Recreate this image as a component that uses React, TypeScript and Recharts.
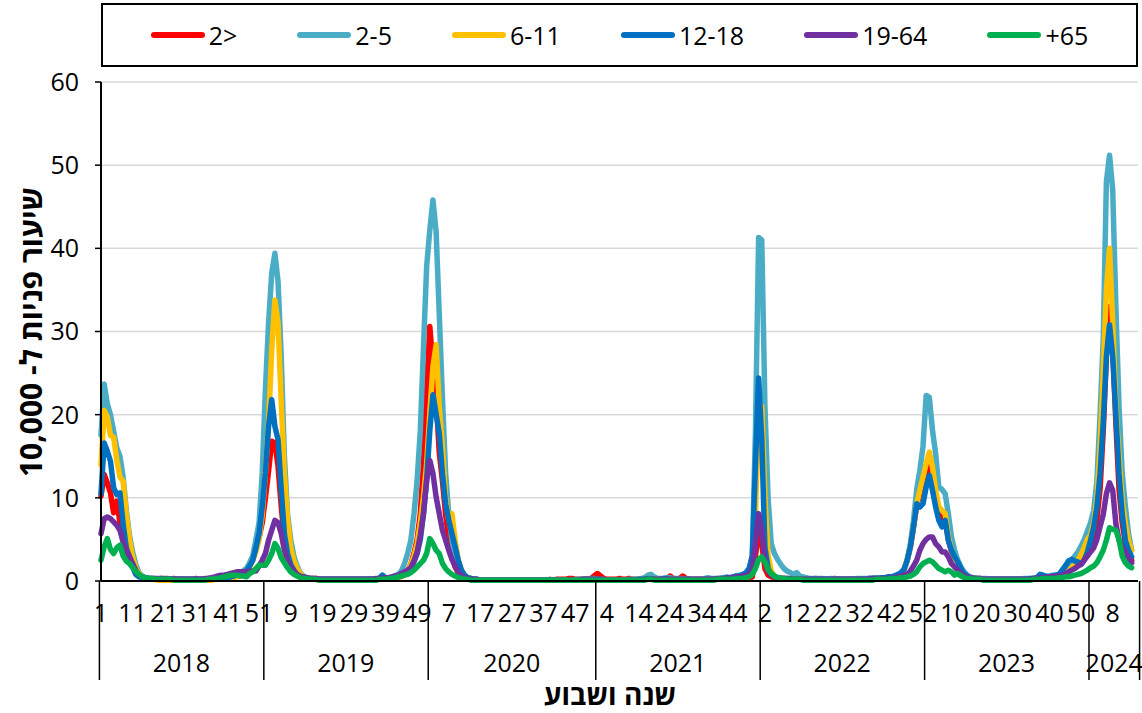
import React from 'react';
import { LineChart, Line, XAxis, YAxis, CartesianGrid, Legend } from 'recharts';

// weekly visit rate per 10,000, by age group, 2018 week 1 .. 2024 week 16
const years = [2018, 2019, 2020, 2021, 2022, 2023, 2024];
const weeksInYear = [52, 52, 53, 52, 52, 52, 16];
const yTicks = [0, 10, 20, 30, 40, 50, 60];

const under2 = [
  // 2018
  10.2, 12.8, 11.8, 10.6, 8.2, 9.6, 7.0, 5.4, 3.8, 2.6, 1.8, 1.0, 0.6,
  0.4, 0.3, 0.3, 0.3, 0.2, 0.2, 0.3, 0.2, 0.2, 0.2, 0.3, 0.2, 0.2,
  0.2, 0.2, 0.2, 0.2, 0.3, 0.2, 0.2, 0.2, 0.3, 0.3, 0.3, 0.4, 0.4,
  0.5, 0.5, 0.6, 0.7, 0.7, 0.8, 0.9, 1.2, 1.8, 2.6, 3.8, 5.2, 7.0,
  // 2019
  10.0, 13.2, 16.8, 16.6, 13.8, 9.0, 5.0, 3.4, 2.8, 1.6, 0.9, 0.6, 0.5,
  0.4, 0.3, 0.3, 0.3, 0.2, 0.2, 0.2, 0.2, 0.2, 0.2, 0.2, 0.2, 0.2,
  0.2, 0.2, 0.2, 0.2, 0.2, 0.2, 0.2, 0.2, 0.2, 0.2, 0.3, 0.3, 0.3,
  0.3, 0.3, 0.4, 0.5, 0.6, 0.8, 1.2, 2.0, 3.3, 5.0, 8.1, 14.1, 23.0,
  // 2020
  30.6, 25.8, 22.0, 15.4, 12.0, 8.0, 5.0, 3.0, 1.7, 1.0, 0.6, 0.4, 0.3,
  0.2, 0.2, 0.1, 0.1, 0.1, 0.1, 0.1, 0.1, 0.1, 0.1, 0.1, 0.1, 0.1,
  0.1, 0.1, 0.1, 0.1, 0.1, 0.1, 0.1, 0.1, 0.1, 0.1, 0.1, 0.1, 0.2,
  0.1, 0.2, 0.2, 0.2, 0.2, 0.3, 0.3, 0.2, 0.2, 0.2, 0.2, 0.2, 0.3, 0.6,
  // 2021
  0.9, 0.6, 0.3, 0.2, 0.2, 0.2, 0.2, 0.3, 0.2, 0.2, 0.3, 0.2, 0.2,
  0.2, 0.2, 0.2, 0.2, 0.2, 0.3, 0.2, 0.2, 0.2, 0.2, 0.6, 0.3, 0.2,
  0.3, 0.6, 0.3, 0.2, 0.2, 0.2, 0.2, 0.2, 0.2, 0.2, 0.2, 0.2, 0.2,
  0.2, 0.2, 0.2, 0.2, 0.2, 0.2, 0.2, 0.2, 0.2, 0.3, 0.5, 3.0, 6.1,
  // 2022
  4.5, 1.5, 0.7, 0.5, 0.4, 0.3, 0.3, 0.3, 0.2, 0.2, 0.2, 0.2, 0.2,
  0.2, 0.2, 0.2, 0.2, 0.3, 0.2, 0.2, 0.2, 0.2, 0.2, 0.3, 0.2, 0.2,
  0.2, 0.2, 0.2, 0.2, 0.2, 0.2, 0.2, 0.2, 0.3, 0.3, 0.3, 0.4, 0.4,
  0.4, 0.4, 0.5, 0.5, 0.6, 0.8, 1.4, 2.5, 4.1, 6.5, 9.0, 10.5, 12.0,
  // 2023
  13.0, 14.5, 12.5, 10.0, 8.0, 7.5, 7.5, 5.0, 3.5, 2.3, 1.5, 1.0, 0.6,
  0.5, 0.4, 0.3, 0.3, 0.3, 0.2, 0.2, 0.2, 0.2, 0.2, 0.2, 0.2, 0.2,
  0.2, 0.2, 0.2, 0.2, 0.2, 0.2, 0.2, 0.2, 0.3, 0.3, 0.3, 0.4, 0.4,
  0.4, 0.5, 0.6, 0.7, 0.9, 1.3, 2.0, 2.2, 1.9, 2.3, 3.0, 4.0, 4.2,
  // 2024
  4.5, 5.5, 7.5, 11.0, 18.0, 27.0, 33.0, 28.0, 19.0, 11.0, 7.0, 4.5, 3.2, 2.5, null, null,
];

const age2to5 = [
  // 2018
  17.5, 23.7, 21.3, 20.0, 18.0, 16.0, 15.0, 12.5, 8.5, 5.5, 3.5, 2.0, 1.0,
  0.6, 0.4, 0.3, 0.3, 0.3, 0.2, 0.2, 0.2, 0.2, 0.2, 0.2, 0.2, 0.2,
  0.2, 0.2, 0.2, 0.2, 0.2, 0.2, 0.2, 0.2, 0.3, 0.3, 0.3, 0.4, 0.5,
  0.5, 0.6, 0.7, 0.8, 0.9, 1.0, 1.2, 1.5, 2.2, 3.0, 5.0, 7.0, 13.0,
  // 2019
  23.0, 31.0, 37.0, 39.4, 36.0, 27.0, 15.0, 8.0, 5.0, 3.0, 1.8, 1.0, 0.6,
  0.4, 0.3, 0.3, 0.2, 0.2, 0.2, 0.2, 0.2, 0.2, 0.2, 0.2, 0.2, 0.2,
  0.2, 0.2, 0.2, 0.2, 0.2, 0.2, 0.2, 0.2, 0.2, 0.2, 0.3, 0.3, 0.4,
  0.4, 0.5, 0.6, 0.8, 1.2, 2.1, 3.3, 4.9, 8.1, 12.1, 18.1, 28.1, 37.8,
  // 2020
  42.2, 45.8, 42.0, 32.0, 22.0, 13.0, 8.0, 5.0, 3.0, 1.7, 1.0, 0.6, 0.4,
  0.3, 0.2, 0.2, 0.1, 0.1, 0.1, 0.1, 0.1, 0.1, 0.1, 0.1, 0.1, 0.1,
  0.1, 0.1, 0.1, 0.1, 0.1, 0.1, 0.1, 0.1, 0.1, 0.1, 0.1, 0.1, 0.1,
  0.1, 0.1, 0.1, 0.1, 0.1, 0.1, 0.1, 0.2, 0.2, 0.2, 0.2, 0.2, 0.3, 0.3,
  // 2021
  0.2, 0.2, 0.2, 0.1, 0.1, 0.1, 0.1, 0.1, 0.1, 0.1, 0.2, 0.2, 0.2,
  0.2, 0.3, 0.4, 0.7, 0.8, 0.5, 0.3, 0.3, 0.3, 0.4, 0.4, 0.3, 0.3,
  0.3, 0.3, 0.2, 0.2, 0.2, 0.2, 0.2, 0.2, 0.3, 0.4, 0.3, 0.3, 0.3,
  0.3, 0.4, 0.5, 0.4, 0.5, 0.6, 0.7, 0.7, 0.8, 1.2, 3.0, 18.0, 41.3,
  // 2022
  41.0, 21.0, 10.0, 4.5, 3.3, 2.6, 2.0, 1.5, 1.2, 1.0, 0.8, 1.0, 0.6,
  0.5, 0.4, 0.3, 0.3, 0.3, 0.3, 0.3, 0.2, 0.2, 0.3, 0.2, 0.2, 0.2,
  0.2, 0.2, 0.2, 0.2, 0.3, 0.3, 0.3, 0.3, 0.3, 0.3, 0.4, 0.4, 0.4,
  0.4, 0.5, 0.5, 0.6, 0.7, 0.9, 1.3, 2.5, 4.5, 7.3, 11.0, 13.3, 16.2,
  // 2023
  22.3, 22.1, 18.1, 15.3, 11.3, 11.0, 10.5, 8.1, 5.3, 3.7, 2.5, 1.7, 1.1,
  0.7, 0.5, 0.4, 0.3, 0.3, 0.3, 0.3, 0.2, 0.2, 0.2, 0.2, 0.2, 0.2,
  0.2, 0.2, 0.2, 0.2, 0.2, 0.3, 0.3, 0.3, 0.3, 0.4, 0.4, 0.5, 0.6,
  0.6, 0.7, 0.7, 0.8, 1.0, 1.5, 2.0, 2.5, 3.0, 3.5, 4.2, 5.0, 6.0,
  // 2024
  7.0, 8.5, 12.0, 20.0, 29.0, 48.0, 51.2, 47.0, 33.0, 21.0, 13.0, 9.0, 5.7, 3.7, null, null,
];

const age6to11 = [
  // 2018
  14.0, 20.5, 19.7, 17.5, 17.3, 14.5, 12.5, 12.0, 8.0, 5.0, 2.9, 1.6, 0.9,
  0.5, 0.3, 0.2, 0.2, 0.2, 0.1, 0.1, 0.1, 0.1, 0.1, 0.1, 0.1, 0.1,
  0.1, 0.1, 0.1, 0.1, 0.1, 0.1, 0.1, 0.1, 0.1, 0.1, 0.2, 0.2, 0.2,
  0.2, 0.3, 0.3, 0.4, 0.5, 0.6, 0.8, 1.1, 1.6, 2.5, 3.5, 5.0, 8.0,
  // 2019
  13.0, 19.0, 27.8, 33.8, 31.0, 21.7, 13.0, 7.5, 4.0, 2.5, 1.5, 0.9, 0.5,
  0.3, 0.2, 0.2, 0.2, 0.1, 0.1, 0.1, 0.1, 0.1, 0.1, 0.1, 0.1, 0.1,
  0.1, 0.1, 0.1, 0.1, 0.1, 0.1, 0.1, 0.1, 0.1, 0.1, 0.2, 0.2, 0.2,
  0.2, 0.3, 0.3, 0.4, 0.5, 0.7, 1.0, 2.0, 3.0, 4.5, 7.0, 10.1, 14.1,
  // 2020
  20.1, 25.8, 28.4, 20.9, 16.1, 10.1, 7.3, 8.1, 4.9, 2.5, 1.3, 0.7, 0.4,
  0.2, 0.2, 0.1, 0.1, 0.1, 0.1, 0.1, 0.1, 0.1, 0.1, 0.1, 0.1, 0.1,
  0.1, 0.1, 0.1, 0.1, 0.1, 0.1, 0.1, 0.1, 0.1, 0.1, 0.1, 0.1, 0.1,
  0.1, 0.1, 0.1, 0.1, 0.1, 0.1, 0.1, 0.1, 0.1, 0.1, 0.1, 0.2, 0.2, 0.2,
  // 2021
  0.2, 0.1, 0.1, 0.1, 0.1, 0.1, 0.1, 0.1, 0.1, 0.1, 0.1, 0.1, 0.1,
  0.1, 0.1, 0.2, 0.3, 0.3, 0.2, 0.2, 0.2, 0.2, 0.2, 0.2, 0.2, 0.2,
  0.2, 0.2, 0.2, 0.1, 0.1, 0.1, 0.1, 0.1, 0.1, 0.2, 0.2, 0.2, 0.2,
  0.2, 0.2, 0.2, 0.2, 0.3, 0.3, 0.3, 0.4, 0.4, 0.6, 1.5, 8.0, 20.0,
  // 2022
  21.0, 10.0, 3.0, 1.2, 0.6, 0.4, 0.3, 0.3, 0.2, 0.2, 0.2, 0.2, 0.2,
  0.2, 0.2, 0.1, 0.1, 0.1, 0.1, 0.1, 0.1, 0.1, 0.1, 0.1, 0.1, 0.1,
  0.1, 0.1, 0.1, 0.1, 0.1, 0.1, 0.1, 0.1, 0.2, 0.2, 0.2, 0.2, 0.3,
  0.3, 0.3, 0.4, 0.5, 0.6, 0.8, 1.4, 2.5, 4.1, 6.5, 9.3, 10.9, 12.5,
  // 2023
  14.1, 15.5, 13.7, 10.9, 8.9, 8.5, 8.1, 5.3, 3.7, 2.5, 1.7, 1.1, 0.7,
  0.5, 0.3, 0.3, 0.2, 0.2, 0.2, 0.1, 0.1, 0.1, 0.1, 0.1, 0.1, 0.1,
  0.1, 0.1, 0.1, 0.1, 0.1, 0.1, 0.1, 0.2, 0.2, 0.2, 0.2, 0.3, 0.3,
  0.3, 0.4, 0.4, 0.5, 0.6, 0.8, 1.2, 1.6, 2.0, 2.5, 3.2, 4.0, 5.0,
  // 2024
  5.5, 7.0, 10.0, 16.0, 25.0, 35.0, 40.0, 31.0, 21.0, 15.0, 9.7, 6.9, 4.9, 3.7, null, null,
];

const age12to18 = [
  // 2018
  10.5, 16.6, 15.6, 14.4, 11.2, 10.4, 10.6, 6.8, 4.0, 2.9, 1.7, 0.8, 0.5,
  0.4, 0.3, 0.3, 0.2, 0.2, 0.2, 0.2, 0.2, 0.2, 0.2, 0.2, 0.2, 0.2,
  0.2, 0.2, 0.2, 0.2, 0.2, 0.2, 0.2, 0.2, 0.2, 0.2, 0.3, 0.3, 0.3,
  0.3, 0.4, 0.5, 0.6, 0.7, 0.8, 0.9, 1.2, 1.8, 2.5, 4.0, 5.7, 8.9,
  // 2019
  13.0, 18.6, 21.8, 18.6, 17.0, 11.0, 5.7, 3.3, 2.0, 1.3, 0.8, 0.5, 0.4,
  0.3, 0.3, 0.2, 0.2, 0.2, 0.2, 0.2, 0.2, 0.2, 0.2, 0.2, 0.2, 0.2,
  0.2, 0.2, 0.2, 0.2, 0.2, 0.2, 0.2, 0.2, 0.2, 0.2, 0.3, 0.7, 0.4,
  0.3, 0.3, 0.4, 0.5, 0.6, 0.8, 1.1, 1.5, 2.3, 3.3, 5.0, 8.1, 12.1,
  // 2020
  18.1, 22.4, 20.1, 17.7, 12.9, 9.3, 7.3, 5.7, 4.1, 2.5, 1.3, 0.7, 0.4,
  0.3, 0.2, 0.2, 0.1, 0.1, 0.1, 0.1, 0.1, 0.1, 0.1, 0.1, 0.1, 0.1,
  0.1, 0.1, 0.1, 0.1, 0.1, 0.1, 0.1, 0.1, 0.1, 0.1, 0.1, 0.1, 0.1,
  0.1, 0.1, 0.1, 0.1, 0.1, 0.1, 0.1, 0.1, 0.1, 0.1, 0.2, 0.2, 0.2, 0.2,
  // 2021
  0.2, 0.2, 0.1, 0.1, 0.1, 0.1, 0.1, 0.1, 0.1, 0.1, 0.1, 0.1, 0.1,
  0.2, 0.2, 0.2, 0.3, 0.3, 0.2, 0.2, 0.2, 0.3, 0.3, 0.2, 0.2, 0.2,
  0.2, 0.2, 0.2, 0.2, 0.1, 0.1, 0.1, 0.1, 0.2, 0.2, 0.2, 0.2, 0.2,
  0.3, 0.3, 0.4, 0.4, 0.5, 0.6, 0.6, 0.8, 1.0, 1.5, 3.0, 14.0, 24.4,
  // 2022
  17.0, 4.0, 1.5, 0.8, 0.5, 0.4, 0.3, 0.3, 0.3, 0.2, 0.2, 0.2, 0.2,
  0.2, 0.2, 0.2, 0.2, 0.2, 0.2, 0.2, 0.2, 0.2, 0.2, 0.2, 0.2, 0.2,
  0.2, 0.2, 0.2, 0.2, 0.2, 0.2, 0.2, 0.2, 0.3, 0.3, 0.3, 0.3, 0.4,
  0.4, 0.5, 0.5, 0.6, 0.8, 1.0, 1.4, 2.5, 4.1, 6.5, 9.3, 8.9, 9.3,
  // 2023
  11.3, 12.7, 10.9, 8.9, 7.3, 6.5, 7.3, 4.9, 3.7, 2.9, 2.3, 1.5, 0.9,
  0.6, 0.4, 0.3, 0.3, 0.2, 0.2, 0.2, 0.2, 0.2, 0.2, 0.2, 0.2, 0.2,
  0.2, 0.2, 0.2, 0.2, 0.2, 0.2, 0.2, 0.3, 0.3, 0.4, 0.8, 0.7, 0.5,
  0.5, 0.6, 0.7, 0.8, 1.3, 1.8, 2.4, 2.6, 2.4, 2.3, 2.0, 2.5, 3.5,
  // 2024
  4.9, 6.5, 8.9, 12.9, 19.0, 27.0, 30.8, 27.0, 20.0, 12.9, 8.1, 4.9, 3.7, 2.9, null, null,
];

const age19to64 = [
  // 2018
  5.7, 7.5, 7.7, 7.5, 7.1, 6.7, 6.1, 4.7, 3.7, 2.9, 2.1, 1.3, 0.7,
  0.5, 0.4, 0.3, 0.3, 0.3, 0.3, 0.3, 0.3, 0.3, 0.2, 0.2, 0.2, 0.2,
  0.2, 0.2, 0.2, 0.2, 0.2, 0.2, 0.2, 0.3, 0.3, 0.4, 0.5, 0.6, 0.7,
  0.7, 0.8, 0.9, 1.0, 1.1, 1.1, 1.1, 1.1, 1.2, 1.2, 1.2, 1.8, 2.5,
  // 2019
  3.3, 4.9, 6.1, 7.3, 7.0, 5.7, 3.7, 2.5, 1.7, 1.2, 0.8, 0.6, 0.5,
  0.4, 0.3, 0.3, 0.3, 0.2, 0.2, 0.2, 0.2, 0.2, 0.2, 0.2, 0.2, 0.2,
  0.2, 0.2, 0.2, 0.2, 0.2, 0.2, 0.2, 0.2, 0.2, 0.3, 0.3, 0.3, 0.4,
  0.4, 0.5, 0.6, 0.7, 0.9, 1.1, 1.3, 1.6, 2.4, 3.5, 5.5, 8.1, 12.1,
  // 2020
  14.5, 12.9, 10.1, 8.1, 6.1, 4.9, 3.7, 2.6, 1.8, 1.1, 0.6, 0.4, 0.3,
  0.2, 0.2, 0.2, 0.1, 0.1, 0.1, 0.1, 0.1, 0.1, 0.1, 0.1, 0.1, 0.1,
  0.1, 0.1, 0.1, 0.1, 0.1, 0.1, 0.1, 0.1, 0.1, 0.1, 0.1, 0.1, 0.1,
  0.1, 0.1, 0.1, 0.1, 0.1, 0.1, 0.1, 0.1, 0.1, 0.2, 0.2, 0.2, 0.2, 0.2,
  // 2021
  0.2, 0.2, 0.2, 0.1, 0.1, 0.1, 0.1, 0.1, 0.1, 0.1, 0.1, 0.1, 0.1,
  0.1, 0.1, 0.2, 0.2, 0.2, 0.2, 0.2, 0.2, 0.2, 0.2, 0.2, 0.2, 0.2,
  0.2, 0.2, 0.2, 0.2, 0.2, 0.2, 0.2, 0.2, 0.2, 0.2, 0.2, 0.2, 0.3,
  0.3, 0.3, 0.3, 0.4, 0.4, 0.5, 0.5, 0.6, 0.7, 0.8, 1.5, 4.5, 8.1,
  // 2022
  6.0, 2.5, 1.2, 0.7, 0.5, 0.4, 0.3, 0.3, 0.3, 0.3, 0.2, 0.2, 0.2,
  0.2, 0.2, 0.2, 0.2, 0.2, 0.2, 0.2, 0.2, 0.2, 0.2, 0.2, 0.2, 0.2,
  0.2, 0.2, 0.2, 0.2, 0.2, 0.2, 0.2, 0.2, 0.2, 0.3, 0.3, 0.3, 0.3,
  0.3, 0.3, 0.4, 0.4, 0.5, 0.6, 0.7, 0.8, 1.2, 1.8, 2.5, 3.7, 4.5,
  // 2023
  5.0, 5.3, 5.3, 4.5, 4.1, 3.5, 3.5, 2.9, 2.1, 1.7, 1.3, 0.9, 0.6,
  0.5, 0.4, 0.3, 0.3, 0.3, 0.2, 0.2, 0.2, 0.2, 0.2, 0.2, 0.2, 0.2,
  0.2, 0.2, 0.2, 0.2, 0.2, 0.2, 0.2, 0.2, 0.3, 0.3, 0.4, 0.4, 0.5,
  0.5, 0.5, 0.6, 0.6, 0.7, 0.9, 1.1, 1.3, 1.5, 1.8, 2.0, 2.5, 3.0,
  // 2024
  3.5, 4.0, 5.0, 6.5, 8.0, 10.5, 11.8, 10.9, 6.9, 4.9, 4.1, 3.5, 2.8, 2.2, null, null,
];

const age65plus = [
  // 2018
  2.5, 4.1, 5.1, 3.8, 3.3, 4.0, 4.3, 3.0, 2.4, 2.1, 1.6, 1.2, 0.8,
  0.5, 0.4, 0.3, 0.3, 0.2, 0.2, 0.2, 0.2, 0.2, 0.2, 0.1, 0.1, 0.1,
  0.1, 0.1, 0.1, 0.1, 0.1, 0.1, 0.1, 0.1, 0.2, 0.2, 0.3, 0.3, 0.4,
  0.5, 0.6, 0.7, 0.7, 0.7, 0.6, 0.6, 0.5, 0.9, 1.1, 1.5, 1.9, 1.9,
  // 2019
  1.9, 2.5, 3.3, 4.5, 3.9, 2.8, 2.2, 1.6, 1.1, 0.8, 0.6, 0.4, 0.3,
  0.3, 0.2, 0.2, 0.2, 0.1, 0.1, 0.1, 0.1, 0.1, 0.1, 0.1, 0.1, 0.1,
  0.1, 0.1, 0.1, 0.1, 0.1, 0.1, 0.1, 0.1, 0.1, 0.1, 0.2, 0.2, 0.2,
  0.3, 0.3, 0.4, 0.5, 0.6, 0.7, 0.8, 1.0, 1.3, 1.7, 2.1, 2.5, 3.3,
  // 2020
  5.1, 4.5, 3.7, 3.3, 2.1, 1.5, 1.1, 0.8, 0.6, 0.4, 0.3, 0.2, 0.2,
  0.1, 0.1, 0.1, 0.1, 0.1, 0.1, 0.1, 0.1, 0.1, 0.1, 0.1, 0.1, 0.1,
  0.1, 0.1, 0.1, 0.1, 0.1, 0.1, 0.1, 0.1, 0.1, 0.1, 0.1, 0.1, 0.1,
  0.1, 0.1, 0.1, 0.1, 0.1, 0.1, 0.1, 0.1, 0.1, 0.1, 0.1, 0.1, 0.1, 0.1,
  // 2021
  0.1, 0.1, 0.1, 0.1, 0.1, 0.1, 0.1, 0.1, 0.1, 0.1, 0.1, 0.1, 0.1,
  0.1, 0.1, 0.1, 0.2, 0.2, 0.1, 0.1, 0.1, 0.1, 0.1, 0.1, 0.1, 0.1,
  0.1, 0.1, 0.1, 0.1, 0.1, 0.1, 0.1, 0.1, 0.1, 0.1, 0.1, 0.1, 0.2,
  0.2, 0.2, 0.2, 0.2, 0.2, 0.3, 0.3, 0.3, 0.4, 0.5, 0.8, 1.5, 2.6,
  // 2022
  2.9, 2.3, 1.4, 0.9, 0.6, 0.4, 0.3, 0.3, 0.2, 0.2, 0.2, 0.2, 0.2,
  0.1, 0.1, 0.1, 0.1, 0.1, 0.1, 0.1, 0.1, 0.1, 0.1, 0.1, 0.1, 0.1,
  0.1, 0.1, 0.1, 0.1, 0.1, 0.1, 0.1, 0.1, 0.1, 0.1, 0.2, 0.2, 0.2,
  0.2, 0.2, 0.3, 0.3, 0.3, 0.4, 0.4, 0.5, 0.6, 0.8, 1.1, 1.7, 2.1,
  // 2023
  2.3, 2.5, 2.3, 1.9, 1.5, 1.3, 1.1, 1.3, 1.1, 0.7, 0.9, 0.6, 0.4,
  0.3, 0.3, 0.2, 0.2, 0.2, 0.1, 0.1, 0.1, 0.1, 0.1, 0.1, 0.1, 0.1,
  0.1, 0.1, 0.1, 0.1, 0.1, 0.1, 0.1, 0.1, 0.2, 0.2, 0.2, 0.3, 0.3,
  0.3, 0.3, 0.3, 0.4, 0.4, 0.5, 0.5, 0.6, 0.7, 0.8, 0.9, 1.1, 1.3,
  // 2024
  1.6, 1.8, 2.2, 2.9, 3.7, 4.9, 6.4, 6.2, 6.1, 5.0, 3.0, 2.2, 1.8, 1.6, null, null,
];

const series = [
  { key: 'under2', name: '2>', color: '#FF0000', values: under2 },
  { key: 'age2to5', name: '2-5', color: '#4BACC6', values: age2to5 },
  { key: 'age6to11', name: '6-11', color: '#FFC000', values: age6to11 },
  { key: 'age12to18', name: '12-18', color: '#0070C0', values: age12to18 },
  { key: 'age19to64', name: '19-64', color: '#7030A0', values: age19to64 },
  { key: 'age65plus', name: '+65', color: '#00B050', values: age65plus },
];

// one category per week
const categories: { year: number; week: number; len: number }[] = [];
years.forEach((year, y) => {
  for (let w = 1; w <= weeksInYear[y]; w++) categories.push({ year, week: w, len: weeksInYear[y] });
});

const data = categories.map((c, i) => {
  const row: Record<string, number | null> = { i };
  series.forEach((s) => {
    row[s.key] = s.values[i] ?? null;
  });
  return row;
});

const W = 1142;
const H = 713;
const PLOT_LEFT = 101;
const PLOT_RIGHT = 1138;
const PLOT_TOP = 82;
const AXIS_Y = 581;
const BAND = (PLOT_RIGHT - PLOT_LEFT) / categories.length;
const FONT = '"Open Sans", "DejaVu Sans", sans-serif';

const WeekYearTick = (props: any) => {
  const { x, payload } = props;
  const i = payload.value as number;
  const c = categories[i];
  const left = x - BAND / 2;
  return (
    <g>
      {i % 10 === 0 && (
        <text x={x} y={612} textAnchor="middle" dominantBaseline="central" fontSize={25} fill="#000" fontFamily={FONT}>
          {c.week}
        </text>
      )}
      {c.week === 1 && (
        <>
          <line x1={left} x2={left} y1={AXIS_Y} y2={680} stroke="#000" strokeWidth={1.5} />
          <text x={left + (c.len * BAND) / 2} y={662} textAnchor="middle" dominantBaseline="central" fontSize={25} fill="#000" fontFamily={FONT}>
            {c.year}
          </text>
        </>
      )}
      {i === categories.length - 1 && (
        <line x1={x + BAND / 2} x2={x + BAND / 2} y1={AXIS_Y} y2={680} stroke="#000" strokeWidth={1.5} />
      )}
    </g>
  );
};

const renderYTitle = () => (
  <text
    x={30}
    y={332}
    transform="rotate(-90, 30, 332)"
    textAnchor="middle"
    dominantBaseline="central"
    fontSize={30}
    fontWeight="bold"
    fill="#000"
    fontFamily={FONT}
    style={{ direction: 'rtl' }}
  >
    שיעור פניות ל- 10,000
  </text>
);

const renderXTitle = () => (
  <text x={610} y={694} textAnchor="middle" dominantBaseline="central" fontSize={28} fontWeight="bold" fill="#000" fontFamily={FONT} style={{ direction: 'rtl' }}>
    שנה ושבוע
  </text>
);

const renderLegend = () => (
  <div
    style={{
      width: PLOT_RIGHT - PLOT_LEFT,
      height: 64,
      border: '2px solid #000',
      boxSizing: 'border-box',
      display: 'flex',
      alignItems: 'center',
      justifyContent: 'center',
      gap: 60,
      fontFamily: FONT,
      fontSize: 25,
      color: '#000',
    }}
  >
    {series.map((s) => (
      <div key={s.key} style={{ display: 'flex', alignItems: 'center' }}>
        <span style={{ display: 'inline-block', width: 54, height: 6, borderRadius: 3, background: s.color, marginRight: 4 }} />
        <span>{s.name}</span>
      </div>
    ))}
  </div>
);

export default function App() {
  return (
    <div style={{ position: 'absolute', left: 0, top: 0, width: W, height: H, background: '#fff' }}>
      <LineChart width={W} height={H} data={data} margin={{ top: PLOT_TOP, right: W - PLOT_RIGHT, left: 0, bottom: 0 }}>
        <CartesianGrid vertical={false} stroke="#d9d9d9" strokeWidth={1.5} />
        <XAxis
          dataKey="i"
          interval={0}
          tickLine={false}
          axisLine={{ stroke: '#000', strokeWidth: 2 }}
          height={H - AXIS_Y}
          tick={WeekYearTick}
          label={{ value: 'שנה ושבוע', content: renderXTitle }}
        />
        <YAxis
          width={PLOT_LEFT}
          domain={[0, 60]}
          ticks={yTicks}
          tickSize={6}
          tickMargin={16}
          tickLine={{ stroke: '#000', strokeWidth: 1.5 }}
          axisLine={{ stroke: '#000', strokeWidth: 2 }}
          tick={{ fontSize: 25, fill: '#000', fontFamily: FONT }}
          label={{ value: 'שיעור פניות ל- 10,000', content: renderYTitle }}
        />
        <YAxis yAxisId="frame" orientation="right" width={0} domain={[0, 60]} tick={false} tickLine={false} axisLine={{ stroke: '#000', strokeWidth: 1.5 }} />
        <Legend
          verticalAlign="middle"
          align="center"
          content={renderLegend}
          wrapperStyle={{ top: 3, left: PLOT_LEFT, width: PLOT_RIGHT - PLOT_LEFT, height: 64 }}
        />
        {series.map((s) => (
          <Line
            key={s.key}
            type="linear"
            dataKey={s.key}
            name={s.name}
            stroke={s.color}
            strokeWidth={5.5}
            strokeLinecap="round"
            strokeLinejoin="round"
            dot={false}
            activeDot={false}
            isAnimationActive={false}
          />
        ))}
      </LineChart>
    </div>
  );
}
